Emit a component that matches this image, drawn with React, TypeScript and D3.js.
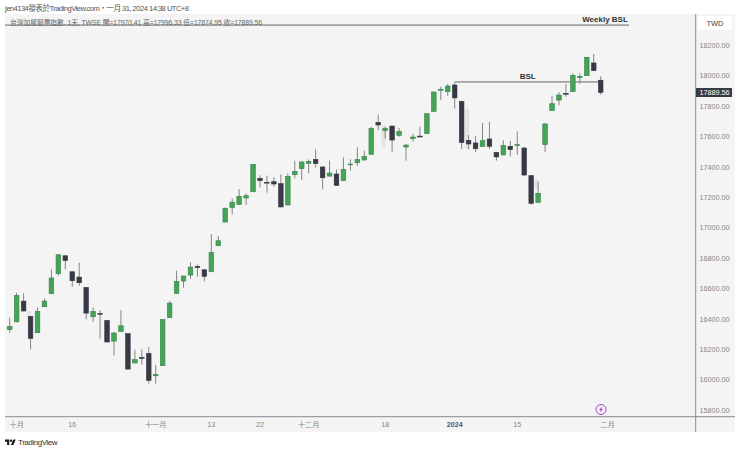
import React from "react";
import * as d3 from "d3";

const opens = [16330,16382,16518,16418,16310,16481,16567,16698,16816,16711,16676,16608,16415,16437,16391,16255,16317,16304,16111,16148,16174,16027,16093,16409,16569,16650,16689,16746,16724,16711,16882,17038,17134,17154,17196,17237,17325,17299,17303,17290,17150,17349,17389,17424,17450,17400,17340,17354,17310,17415,17428,17446,17483,17693,17639,17669,17608,17531,17586,17603,17619,17766,17904,17895,17939,17832,17575,17558,17534,17584,17496,17479,17536,17540,17525,17343,17167,17547,17770,17840,17884,17895,17987,18000,18084,17970.41];
const highs = [16411,16573,16569,16418,16477,16536,16727,16825,16820,16713,16770,16610,16477,16459,16393,16317,16459,16306,16198,16201,16216,16098,16398,16518,16718,16685,16773,16759,16727,16959,16946,17134,17191,17255,17226,17419,17345,17343,17332,17351,17358,17441,17435,17450,17516,17402,17441,17384,17463,17450,17529,17507,17665,17746,17665,17671,17656,17551,17617,17665,17753,17895,17928,17946,17957,17834,17610,17604,17689,17696,17498,17575,17571,17634,17527,17345,17303,17685,17867,17891,17946,18016,18016,18123,18143,17996.33];
const lows = [16310,16378,16450,16201,16308,16478,16565,16685,16727,16613,16619,16398,16382,16271,16247,16161,16315,16069,16109,16100,15975,15975,16091,16407,16567,16606,16665,16678,16648,16709,16880,17036,17088,17150,17150,17235,17266,17231,17270,17135,17148,17325,17314,17358,17397,17253,17336,17277,17308,17376,17406,17441,17481,17643,17586,17498,17599,17441,17566,17595,17617,17764,17840,17867,17783,17518,17516,17498,17532,17518,17442,17477,17470,17479,17341,17152,17165,17498,17768,17805,17862,17893,17946,17998,18031,17874.95];
const closes = [16352,16556,16453,16273,16450,16518,16670,16823,16784,16652,16639,16439,16450,16431,16249,16308,16356,16071,16133,16141,15997,16036,16396,16505,16648,16683,16742,16738,16681,16838,16915,17128,17169,17207,17211,17417,17310,17294,17288,17137,17338,17371,17433,17437,17422,17329,17360,17279,17384,17419,17450,17470,17654,17676,17652,17577,17634,17544,17597,17597,17750,17893,17911,17932,17854,17560,17551,17520,17573,17536,17466,17542,17514,17547,17347,17161,17227,17683,17816,17873,17878,18003,17996,18121,18033,17889.56];

const priceTicks = [18200,18000,17800,17600,17400,17200,17000,16800,16600,16400,16200,16000,15800];
const timeTicks: [number, string, boolean][] = [[1,"十月",false],[9,"16",false],[21,"十一月",false],[29,"13",false],[36,"22",false],[43,"十二月",false],[54,"18",false],[64,"2024",true],[73,"15",false],[86,"二月",false]];
const ghostIdx = [2,53,65,75];
const ghostTop = [16450,17676,17780,17320];
const ghostBottom = [16410,17530,17520,17250];

const lastClose = closes[closes.length - 1];
const bslPrice = 17959;
const weeklyPrice = 18333;

const FONT = "'Liberation Sans','Noto Sans CJK TC',sans-serif";
const GREEN = "#46a457";
const GREEN_EDGE = "#35824a";
const DARK = "#363a45";
const WICK = "#858585";

export default function App() {
  const x = d3.scaleLinear().domain([0, 85]).range([9.7, 600.7]);
  const y = d3.scaleLinear().domain([15800, 18200]).range([410.3, 45.3]);
  const bw = 4.6;
  return (
    <svg width={740} height={450} style={{ position: "absolute", left: 0, top: 0, background: "#fff", fontFamily: FONT }}>
      <rect x={5} y={14} width={730} height={418} fill="#f4f4f4" />
      <text x={5} y={11} fontSize={7.6} fill="#555" textLength={184}>jen4134發表於TradingView.com・一月 31, 2024 14:38 UTC+8</text>
      <text x={10} y={25} fontSize={6.8} fill="#666" textLength={252}>台灣加權股票指數, 1天, TWSE  開=17970.41  高=17996.33  低=17874.95  收=17889.56</text>
      <line x1={5} x2={629} y1={y(weeklyPrice)} y2={y(weeklyPrice)} stroke="#666" strokeWidth={1} />
      <text x={605} y={22} fontSize={8} fontWeight={700} fill="#333" textAnchor="middle">Weekly BSL</text>

      {ghostIdx.map((g, i) => (
        <rect key={i} x={x(g) + 3.5} width={4} y={y(ghostTop[i])} height={y(ghostBottom[i]) - y(ghostTop[i])} fill="#e3e3e3" />
      ))}

      <line x1={x(64)} x2={x(85)} y1={y(bslPrice)} y2={y(bslPrice)} stroke="#666" strokeWidth={1} />
      <text x={527.7} y={79} fontSize={8} fontWeight={700} fill="#333" textAnchor="middle">BSL</text>

      {opens.map((o, i) => {
        const c = closes[i];
        const up = c >= o;
        const top = y(Math.max(o, c));
        const h = Math.abs(y(o) - y(c));
        return (
          <g key={i}>
            <line x1={x(i)} x2={x(i)} y1={y(highs[i])} y2={y(lows[i])} stroke={WICK} strokeWidth={1} />
            <rect x={x(i) - bw / 2} y={top} width={bw} height={Math.max(h, 0.8)} fill={up ? GREEN : DARK} stroke={up ? GREEN_EDGE : DARK} strokeWidth={0.6} />
          </g>
        );
      })}

      <line x1={5} x2={735} y1={416.7} y2={416.7} stroke="#8a8a8a" strokeWidth={1} />
      <line x1={695.7} x2={695.7} y1={14} y2={432} stroke="#8a8a8a" strokeWidth={1} />

      <rect x={697.7} y={16} width={34.5} height={14} fill="#fff" />
      <text x={715} y={26} fontSize={7.5} fill="#444" textAnchor="middle">TWD</text>

      {priceTicks.map((p) => (
        <text key={p} x={714.5} y={y(p) + 2.6} fontSize={7.2} fill="#858585" textAnchor="middle">{p.toFixed(2)}</text>
      ))}

      <rect x={696} y={y(lastClose) - 4.5} width={36} height={9} fill={DARK} />
      <text x={714.5} y={y(lastClose) + 2.6} fontSize={7.2} fill="#fff" textAnchor="middle">{lastClose.toFixed(2)}</text>

      {timeTicks.map(([i, label, bold]) => (
        <text key={label} x={x(i)} y={426.5} fontSize={7.2} fill={bold ? "#555" : "#858585"} fontWeight={bold ? 700 : 400} textAnchor="middle">{label}</text>
      ))}

      <g transform="translate(601,409.5)">
        <circle r={5} fill="none" stroke="#a245c9" strokeWidth={1} />
        <path d="M1,-3 L-2,0.6 L-0.2,0.6 L-1,3 L2,-0.6 L0.2,-0.6 Z" fill="#a245c9" />
      </g>

      <g transform="translate(5,438.4) scale(0.3)" fill="#1a1a1a">
        <path d="M14 22H7V11H0V4h14v18zM28 22h-8l7.5-18h8L28 22z" />
        <circle cx={20} cy={8} r={4} />
      </g>
      <text x={18} y={444.5} fontSize={8} fill="#333" textLength={39.5}>TradingView</text>
    </svg>
  );
}
